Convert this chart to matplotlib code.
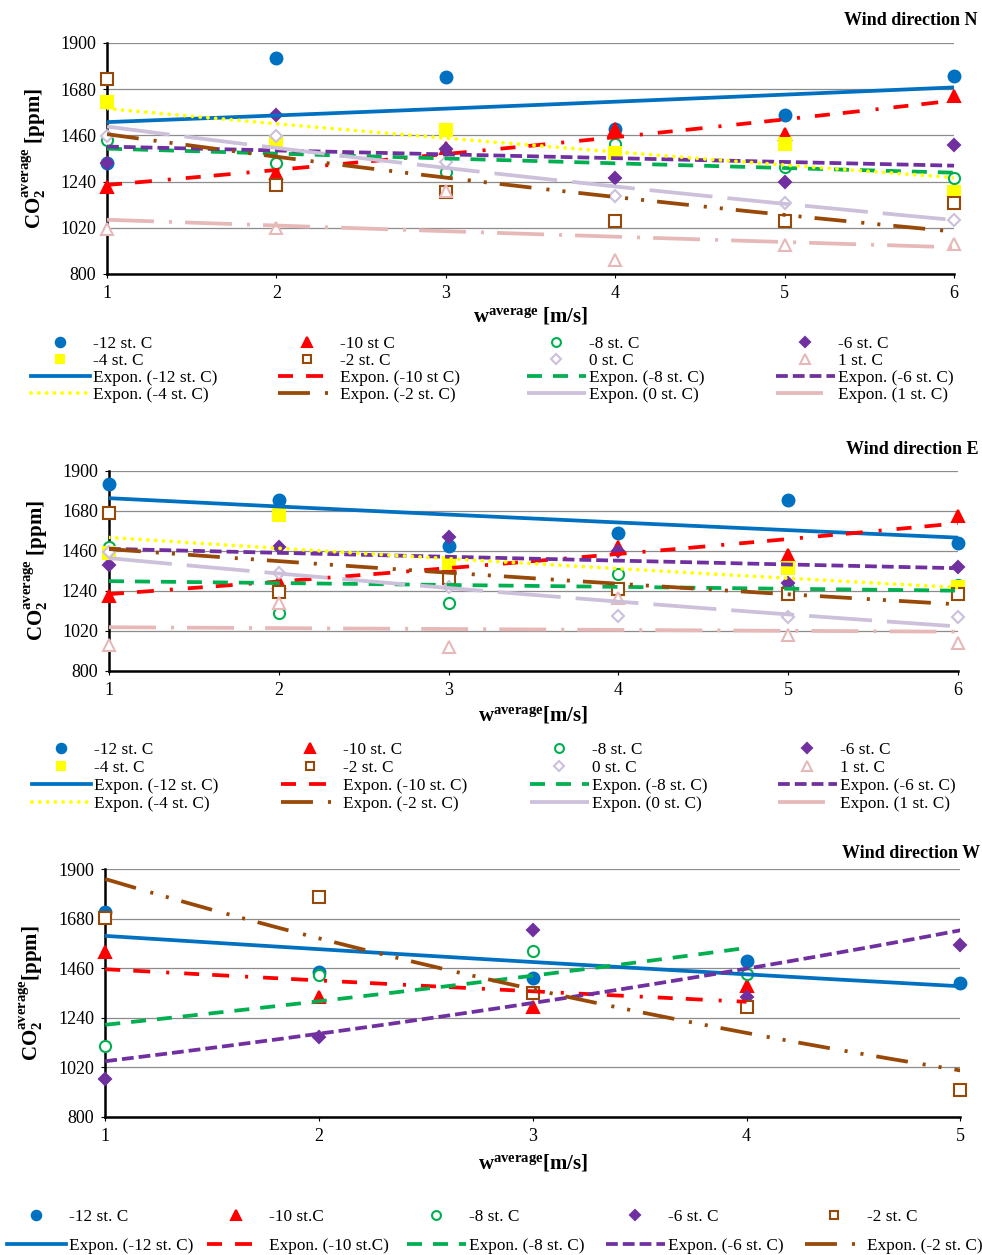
import numpy as np
import matplotlib
matplotlib.use('Agg')
import matplotlib.pyplot as plt

plt.rcParams['font.family'] = ['Liberation Serif', 'DejaVu Serif']
plt.rcParams['mathtext.fontset'] = 'custom'
plt.rcParams['mathtext.rm'] = 'Liberation Serif'
plt.rcParams['mathtext.bf'] = 'Liberation Serif:bold'
plt.rcParams['mathtext.it'] = 'Liberation Serif:italic'
plt.rcParams['lines.scale_dashes'] = False

# wind speed classes [m/s]
speed_ne = [1, 2, 3, 4, 5, 6]
speed_w = [1, 2, 3, 4, 5]

# mean CO2 [ppm] per outdoor temperature, wind direction N
n_m12 = [1327, 1827, 1739, 1488, 1555, 1742]
n_m10 = [1215, 1283, 1400, 1492, 1468, 1647]
n_m8 = [1436, 1327, 1287, 1420, 1310, 1259]
n_m6 = [1327, 1555, 1393, 1259, 1238, 1414]
n_m4 = [1618, 1428, 1484, 1374, 1420, 1192]
n_m2 = [1729, 1222, 1188, 1053, 1053, 1137]
n_0 = [1455, 1457, 1335, 1172, 1140, 1058]
n_1 = [1013, 1017, 1196, 866, 939, 942]

# wind direction E
e_m12 = [1827, 1739, 1486, 1555, 1739, 1504]
e_m10 = [1211, 1290, 1385, 1482, 1436, 1651]
e_m8 = [1482, 1117, 1170, 1332, 1255, 1271]
e_m6 = [1381, 1482, 1533, 1460, 1284, 1368]
e_m4 = [1449, 1656, 1390, 1247, 1363, 1262]
e_m2 = [1665, 1234, 1308, 1247, 1222, 1222]
e_0 = [1455, 1337, 1262, 1101, 1093, 1097]
e_1 = [941, 1172, 932, 1198, 996, 954]

# wind direction W
w_m12 = [1712, 1445, 1415, 1492, 1396]
w_m10 = [1534, 1334, 1289, 1381]
w_m8 = [1114, 1430, 1538, 1434]
w_m6 = [966, 1156, 1630, 1334, 1563]
w_m2 = [1682, 1778, 1349, 1286, 919]

temps_ne = ['-12', '-10', '-8', '-6', '-4', '-2', '0', '1']
temps_w = ['-12', '-10', '-8', '-6', '-2']

labels_n = ['-12 st. C', '-10 st C', '-8 st. C', '-6 st. C',
            '-4 st. C', '-2 st. C', '0 st. C', '1 st. C']
labels_e = ['-12 st. C', '-10 st. C', '-8 st. C', '-6 st. C',
            '-4 st. C', '-2 st. C', '0 st. C', '1 st. C']
labels_w = ['-12 st. C', '-10 st.C', '-8 st. C', '-6 st. C', '-2 st. C']

yticks = [800, 1020, 1240, 1460, 1680, 1900]

# marker + trendline look for every temperature (dashes in points)
style = {
    '-12': dict(c='#0070C0', m='o', ms=8.5, fill=True, dash=None),
    '-10': dict(c='#FF0000', m='^', ms=8.5, fill=True,
                dash=(10.8, 9.4, 12.2, 11.5, 2.2, 10.8)),
    '-8': dict(c='#00B050', m='o', ms=8, fill=False, dash=(10.8, 7.9)),
    '-6': dict(c='#7030A0', m='D', ms=6.3, fill=True, dash=(8.5, 3.6)),
    '-4': dict(c='#FFFF00', m='s', ms=8, fill=True, dash=(0.01, 5.6)),
    '-2': dict(c='#984807', m='s', ms=8, fill=False,
               dash=(23, 10.8, 2.2, 9.4, 2.2, 9.4)),
    '0': dict(c='#CCC0DA', m='D', ms=6, fill=False, dash=(45.4, 10.8)),
    '1': dict(c='#E6B9B8', m='^', ms=8.5, fill=False,
              dash=(33.8, 10.8, 2.2, 9.4)),
}


def panel(ax, x, series, temps, labels, xlab, ylab, xlab_y, ylab_x):
    pts, lines = [], []
    for t, y, lab in zip(temps, series, labels):
        s = style[t]
        xs = np.array(x[:len(y)], dtype=float)
        ys = np.array(y, dtype=float)
        p, = ax.plot(xs, ys, ls='none', marker=s['m'], ms=s['ms'],
                     mfc=s['c'] if s['fill'] else 'white', mec=s['c'],
                     mew=1.5, clip_on=False, zorder=3, label=lab)
        # exponential trendline, like Excel "Expon."
        b, lna = np.polyfit(xs, np.log(ys), 1)
        xf = np.linspace(xs.min(), xs.max(), 200)
        lw = 2.8 if t == '-4' else 2.7
        l, = ax.plot(xf, np.exp(lna + b * xf), color=s['c'], lw=lw,
                     zorder=4, label='Expon. (' + lab + ')')
        if s['dash'] is not None:
            l.set_dashes(s['dash'])
            l.set_dash_capstyle('round' if t == '-4' else 'butt')
        pts.append(p)
        lines.append(l)

    ax.set_xlim(x[0], x[-1])
    ax.set_ylim(800, 1900)
    ax.set_xticks(x)
    ax.set_yticks(yticks)
    ax.grid(axis='y', color='#8c8c8c', lw=0.9)
    ax.set_axisbelow(True)
    for sp in ['top', 'right']:
        ax.spines[sp].set_visible(False)
    for sp in ['left', 'bottom']:
        ax.spines[sp].set_linewidth(1.8)
    ax.tick_params(labelsize=13, length=3, width=0.8, pad=5)
    ax.set_xlabel(xlab, fontsize=15, fontweight='bold', va='top')
    ax.xaxis.set_label_coords(0.5, xlab_y)
    ax.set_ylabel(ylab, fontsize=15, fontweight='bold')
    ax.yaxis.set_label_coords(ylab_x, 0.5)
    return pts, lines


fig = plt.figure(figsize=(9.82, 12.55), dpi=100)

ax_n = fig.add_axes([0.109, 0.7817, 0.8625, 0.1841])
ax_e = fig.add_axes([0.111, 0.4656, 0.8646, 0.1594])
ax_w = fig.add_axes([0.1072, 0.1102, 0.8707, 0.1971])

pn, ln = panel(ax_n, speed_ne, [n_m12, n_m10, n_m8, n_m6, n_m4, n_m2, n_0, n_1],
               temps_ne, labels_n, r'$\mathbf{w^{average}}$ [m/s]',
               r'$\mathbf{CO_2^{average}}$ [ppm]', -0.135, -0.07)
pe, le = panel(ax_e, speed_ne, [e_m12, e_m10, e_m8, e_m6, e_m4, e_m2, e_0, e_1],
               temps_ne, labels_e, r'$\mathbf{w^{average}}$[m/s]',
               r'$\mathbf{CO_2^{average}}$ [ppm]', -0.17, -0.07)
pw, lw_ = panel(ax_w, speed_w, [w_m12, w_m10, w_m8, w_m6, w_m2],
                temps_w, labels_w, r'$\mathbf{w^{average}}$[m/s]',
                r'$\mathbf{CO_2^{average}}$[ppm]', -0.145, -0.07)

fig.text(0.995, 0.984, 'Wind direction N', ha='right', va='center',
         fontsize=13, fontweight='bold')
fig.text(0.997, 0.6422, 'Wind direction E', ha='right', va='center',
         fontsize=13, fontweight='bold')
fig.text(0.998, 0.3203, 'Wind direction W', ha='right', va='center',
         fontsize=13, fontweight='bold')

leg_kw = dict(loc='upper left', frameon=False, fontsize=12.4, borderpad=0,
              borderaxespad=0, handlelength=3.4, handletextpad=0.2,
              markerscale=0.8)
W, H = 982.0, 1255.0


def column_legends(columns, xs_px, top_px, spacing):
    # one legend per column so the columns sit on a fixed pitch
    for hs, xp in zip(columns, xs_px):
        fig.legend(hs, [x.get_label() for x in hs], labelspacing=spacing,
                   bbox_to_anchor=(xp / W, 1 - top_px / H), **leg_kw)


column_legends([[pn[c], pn[c + 4], ln[c], ln[c + 4]] for c in range(4)],
               [31, 278, 527, 776], 335.5, 0.06)
column_legends([[pe[c], pe[c + 4], le[c], le[c + 4]] for c in range(4)],
               [32, 281, 530, 778], 741.5, 0.12)
column_legends([[pw[c], lw_[c]] for c in range(5)],
               [7, 207, 407, 606, 805], 1208.5, 0.8)

fig.savefig('out.png', dpi=100)
